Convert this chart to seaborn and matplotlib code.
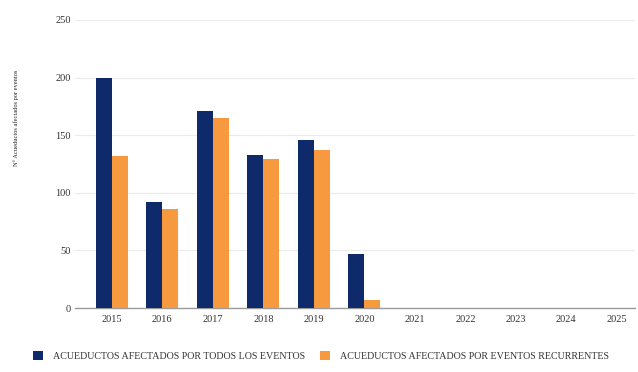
import matplotlib
matplotlib.use("Agg")
import matplotlib.pyplot as plt
import seaborn as sns
import pandas as pd

years = ["2015", "2016", "2017", "2018", "2019", "2020", "2021", "2022", "2023", "2024", "2025"]
todos = [200, 92, 171, 133, 146, 47, 0, 0, 0, 0, 0]
recurrentes = [132, 86, 165, 129, 137, 7, 0, 0, 0, 0, 0]
series_names = ["ACUEDUCTOS AFECTADOS POR TODOS LOS EVENTOS",
                "ACUEDUCTOS AFECTADOS POR EVENTOS RECURRENTES"]
colors = ["#0f2a6b", "#f7993f"]
y_ticks = [0, 50, 100, 150, 200, 250]
y_label = "N° Acueductos afectados por eventos"

df = pd.DataFrame({
    "Año": years * 2,
    "Valor": todos + recurrentes,
    "Serie": [series_names[0]] * len(years) + [series_names[1]] * len(years),
})

sns.set_theme(style="white")
plt.rcParams["font.family"] = ["Liberation Serif", "DejaVu Serif"]

W, H = 638, 372
fig = plt.figure(figsize=(W / 100, H / 100), dpi=100)
left, right, bottom, top = 75, 635, 308, 20
ax = fig.add_axes([left / W, 1 - bottom / H, (right - left) / W, (bottom - top) / H])

sns.barplot(data=df, x="Año", y="Valor", hue="Serie", palette=colors,
            width=0.63, saturation=1, linewidth=0, ax=ax, zorder=3)

ax.set_ylim(0, 250)
ax.set_xlim(-0.73, 10.36)
ax.set_yticks(y_ticks)
ax.set_yticklabels([str(v) for v in y_ticks])
ax.yaxis.grid(True, color="#ebebeb", linewidth=0.8, zorder=0)
ax.xaxis.grid(False)
for s in ["top", "right", "left"]:
    ax.spines[s].set_visible(False)
ax.spines["bottom"].set_color("#9a9a9a")
ax.spines["bottom"].set_linewidth(1.0)
ax.tick_params(axis="y", length=0, pad=3, labelsize=7.5, colors="#333333")
ax.tick_params(axis="x", length=0, pad=5, labelsize=7.5, colors="#333333")
ax.set_xlabel("")
ax.set_ylabel(y_label, fontsize=4.6, color="#222222")
ax.yaxis.set_label_coords(-0.1, 0.66)

leg = ax.get_legend()
handles = leg.legend_handles
leg.remove()
fig.legend(handles, series_names, loc="center", bbox_to_anchor=(0.503, 0.043),
           ncol=2, frameon=False, fontsize=7.2, handlelength=1.0, handleheight=1.0,
           columnspacing=1.5, handletextpad=1.0, labelcolor="#333333")

fig.savefig("out.png", dpi=100)
